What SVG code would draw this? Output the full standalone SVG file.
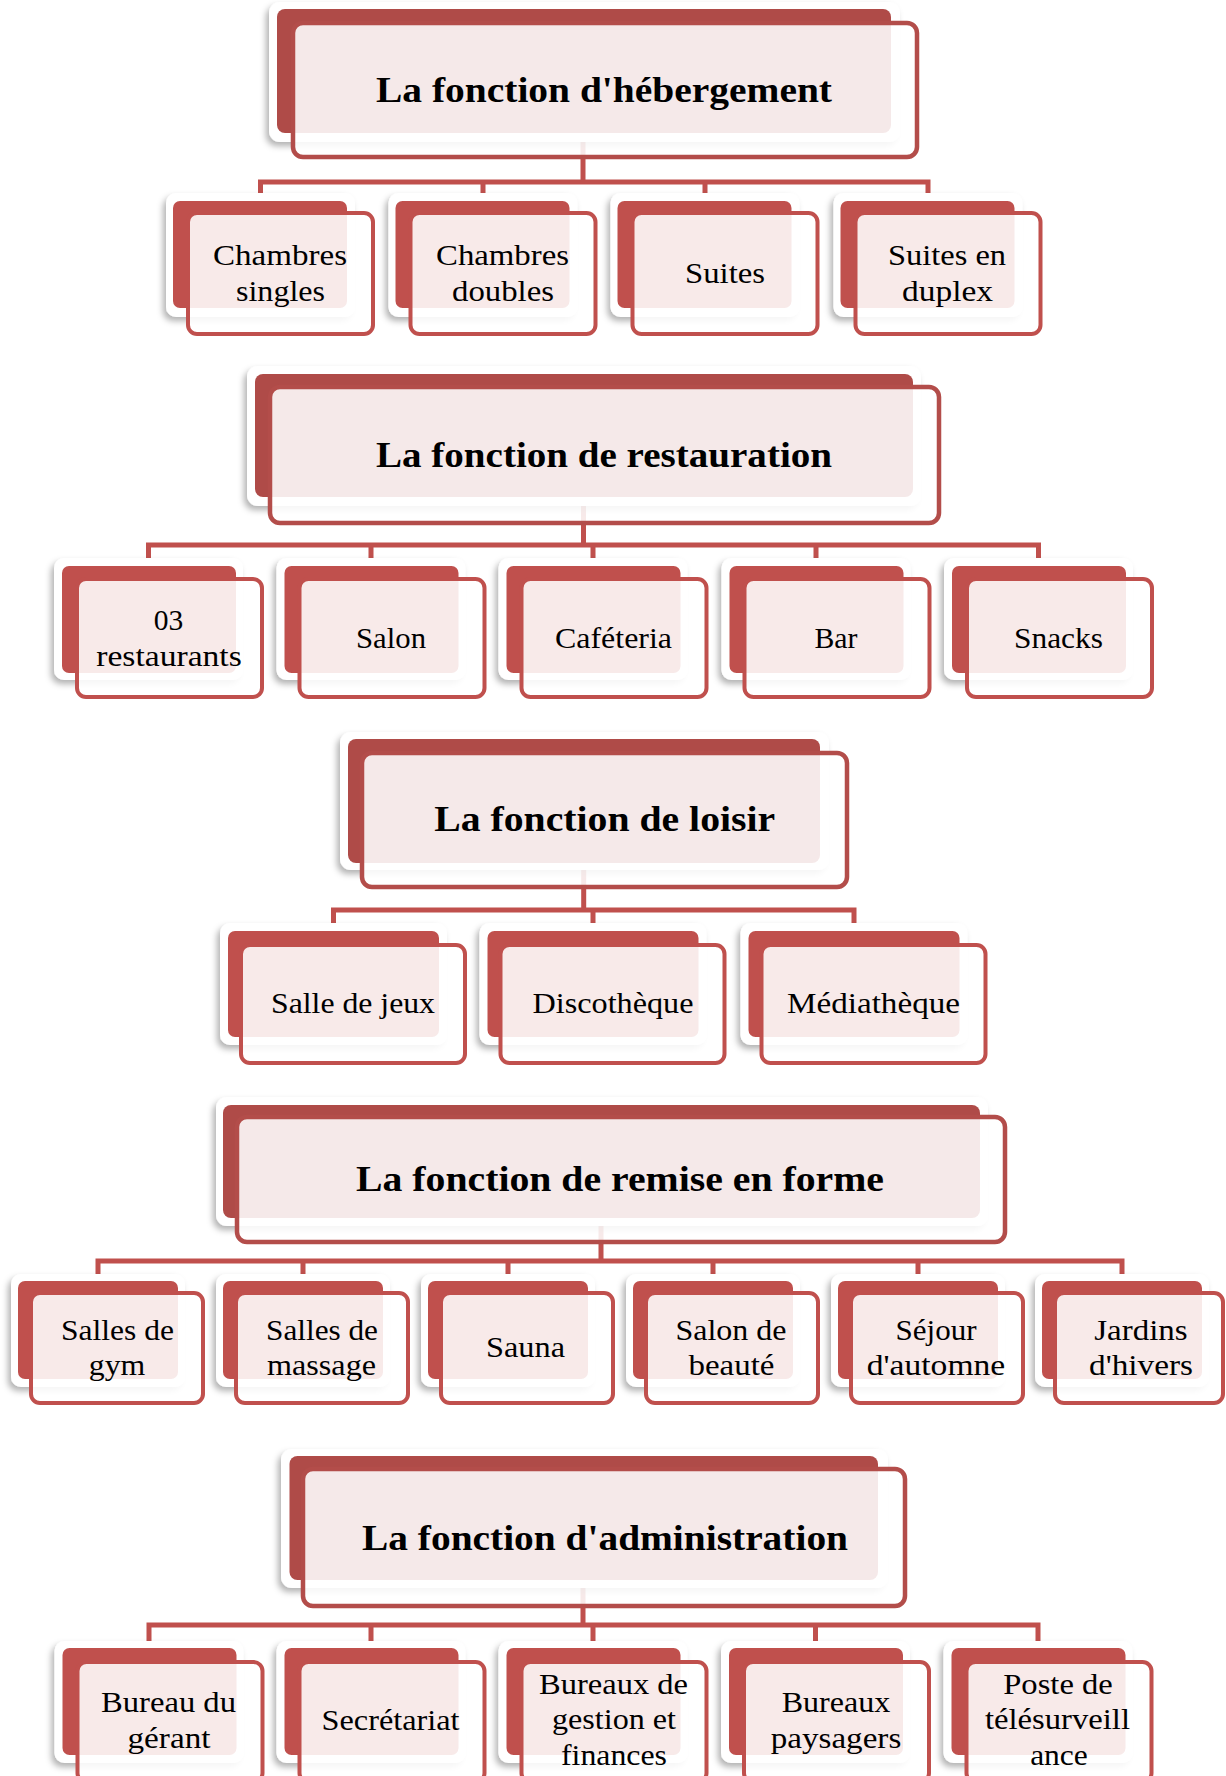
<svg xmlns="http://www.w3.org/2000/svg" width="1226" height="1776" viewBox="0 0 1226 1776">
<defs>
<filter id="sh" x="-10%" y="-15%" width="120%" height="135%">
<feDropShadow dx="-3" dy="4" stdDeviation="3" flood-color="#000" flood-opacity="0.3"/>
</filter>
</defs>
<style>
.w{fill:#fff;filter:url(#sh)}
.hr{fill:#AF4B48}
.hf{fill:#fff;fill-opacity:0.88;stroke:#B34D4A;stroke-width:4.5}
.cr{fill:#C0504D}
.cf{fill:#fff;fill-opacity:0.88;stroke:#C0504D;stroke-width:4}
.ht{font-family:"Liberation Serif",serif;font-weight:bold;font-size:36px;fill:#000;text-anchor:middle}
.ct{font-family:"Liberation Serif",serif;font-size:30px;fill:#000;text-anchor:middle}
.c4{font-family:"Liberation Serif",serif;font-size:29px;fill:#000;text-anchor:middle}
.con{fill:none;stroke:#C0504D;stroke-width:5}
</style>
<rect width="1226" height="1776" fill="#fff"/>
<g id="connectors">
<path class="con" d="M583,142V182M260.5,193V182H928V193M483,182V193M705,182V193"/>
<path class="con" d="M583.5,506V545M148.5,558V545H1038.5V558M371,545V558M593,545V558M816,545V558"/>
<path class="con" d="M583.7,870V910M333.5,923V910H854V923M593,910V923"/>
<path class="con" d="M601,1226V1261M98,1274V1261H1122V1274M303,1261V1274M508,1261V1274M713,1261V1274M918,1261V1274"/>
<path class="con" d="M583,1588V1625M149,1641V1625H1038V1641M371,1625V1641M593,1625V1641M815.5,1625V1641"/>
</g>
<!-- Section 1 -->
<g id="h1">
<rect class="w" x="269" y="2" width="631" height="140" rx="11"/>
<rect class="hr" x="277" y="9" width="614" height="124" rx="8"/>
<rect class="hf" x="293" y="23" width="624" height="134" rx="10"/>
<text class="ht" x="604" y="102" textLength="456" lengthAdjust="spacingAndGlyphs">La fonction d'hébergement</text>
</g>
<g id="n1a">
<rect class="w" x="166" y="193" width="189" height="124" rx="10"/>
<rect class="cr" x="173" y="201" width="174" height="107" rx="7"/>
<rect class="cf" x="188" y="213" width="185" height="121" rx="9"/>
<text class="ct" x="280" y="265" textLength="134" lengthAdjust="spacingAndGlyphs">Chambres</text>
<text class="ct" x="280.5" y="301" textLength="89" lengthAdjust="spacingAndGlyphs">singles</text>
</g>
<g id="n1b">
<rect class="w" x="388.5" y="193" width="189" height="124" rx="10"/>
<rect class="cr" x="395.5" y="201" width="174" height="107" rx="7"/>
<rect class="cf" x="410.5" y="213" width="185" height="121" rx="9"/>
<text class="ct" x="502.5" y="265" textLength="133" lengthAdjust="spacingAndGlyphs">Chambres</text>
<text class="ct" x="503" y="301" textLength="102" lengthAdjust="spacingAndGlyphs">doubles</text>
</g>
<g id="n1c">
<rect class="w" x="610.5" y="193" width="189" height="124" rx="10"/>
<rect class="cr" x="617.5" y="201" width="174" height="107" rx="7"/>
<rect class="cf" x="632.5" y="213" width="185" height="121" rx="9"/>
<text class="ct" x="725" y="283" textLength="80" lengthAdjust="spacingAndGlyphs">Suites</text>
</g>
<g id="n1d">
<rect class="w" x="833.5" y="193" width="189" height="124" rx="10"/>
<rect class="cr" x="840.5" y="201" width="174" height="107" rx="7"/>
<rect class="cf" x="855.5" y="213" width="185" height="121" rx="9"/>
<text class="ct" x="947" y="265" textLength="118" lengthAdjust="spacingAndGlyphs">Suites en</text>
<text class="ct" x="947.5" y="301" textLength="91" lengthAdjust="spacingAndGlyphs">duplex</text>
</g>
<!-- Section 2 -->
<g id="h2">
<rect class="w" x="247" y="366" width="674" height="140" rx="11"/>
<rect class="hr" x="255" y="374" width="658" height="123" rx="8"/>
<rect class="hf" x="270" y="387" width="669" height="136" rx="10"/>
<text class="ht" x="604" y="467" textLength="456" lengthAdjust="spacingAndGlyphs">La fonction de restauration</text>
</g>
<g id="n2a">
<rect class="w" x="54" y="558" width="189" height="122" rx="10"/>
<rect class="cr" x="62" y="566" width="174" height="107" rx="7"/>
<rect class="cf" x="77" y="579" width="185" height="118" rx="9"/>
<text class="ct" x="168.5" y="630" textLength="29.5" lengthAdjust="spacingAndGlyphs">03</text>
<text class="ct" x="169" y="666" textLength="145.6" lengthAdjust="spacingAndGlyphs">restaurants</text>
</g>
<g id="n2b">
<rect class="w" x="276.5" y="558" width="189" height="122" rx="10"/>
<rect class="cr" x="284.5" y="566" width="174" height="107" rx="7"/>
<rect class="cf" x="299.5" y="579" width="185" height="118" rx="9"/>
<text class="ct" x="391" y="648" textLength="70" lengthAdjust="spacingAndGlyphs">Salon</text>
</g>
<g id="n2c">
<rect class="w" x="498.5" y="558" width="189" height="122" rx="10"/>
<rect class="cr" x="506.5" y="566" width="174" height="107" rx="7"/>
<rect class="cf" x="521.5" y="579" width="185" height="118" rx="9"/>
<text class="ct" x="613.5" y="648" textLength="117" lengthAdjust="spacingAndGlyphs">Caféteria</text>
</g>
<g id="n2d">
<rect class="w" x="721.5" y="558" width="189" height="122" rx="10"/>
<rect class="cr" x="729.5" y="566" width="174" height="107" rx="7"/>
<rect class="cf" x="744.5" y="579" width="185" height="118" rx="9"/>
<text class="ct" x="836" y="648" textLength="43" lengthAdjust="spacingAndGlyphs">Bar</text>
</g>
<g id="n2e">
<rect class="w" x="944" y="558" width="189" height="122" rx="10"/>
<rect class="cr" x="952" y="566" width="174" height="107" rx="7"/>
<rect class="cf" x="967" y="579" width="185" height="118" rx="9"/>
<text class="ct" x="1058.5" y="648" textLength="89" lengthAdjust="spacingAndGlyphs">Snacks</text>
</g>
<!-- Section 3 -->
<g id="h3">
<rect class="w" x="340" y="732" width="489" height="138" rx="11"/>
<rect class="hr" x="348" y="739" width="472" height="124" rx="8"/>
<rect class="hf" x="362" y="753" width="485" height="134" rx="10"/>
<text class="ht" x="604.7" y="831" textLength="341" lengthAdjust="spacingAndGlyphs">La fonction de loisir</text>
</g>
<g id="n3a">
<rect class="w" x="220" y="923" width="227" height="122" rx="10"/>
<rect class="cr" x="228" y="931" width="211" height="106" rx="7"/>
<rect class="cf" x="241" y="945" width="224" height="118" rx="9"/>
<text class="ct" x="353" y="1013" textLength="164" lengthAdjust="spacingAndGlyphs">Salle de jeux</text>
</g>
<g id="n3b">
<rect class="w" x="479.5" y="923" width="227" height="122" rx="10"/>
<rect class="cr" x="487.5" y="931" width="211" height="106" rx="7"/>
<rect class="cf" x="500.5" y="945" width="224" height="118" rx="9"/>
<text class="ct" x="613" y="1013" textLength="161" lengthAdjust="spacingAndGlyphs">Discothèque</text>
</g>
<g id="n3c">
<rect class="w" x="740.5" y="923" width="227" height="122" rx="10"/>
<rect class="cr" x="748.5" y="931" width="211" height="106" rx="7"/>
<rect class="cf" x="761.5" y="945" width="224" height="118" rx="9"/>
<text class="ct" x="873.5" y="1013" textLength="173" lengthAdjust="spacingAndGlyphs">Médiathèque</text>
</g>
<!-- Section 4 -->
<g id="h4">
<rect class="w" x="216" y="1097" width="772" height="129" rx="11"/>
<rect class="hr" x="223" y="1105" width="757" height="113" rx="8"/>
<rect class="hf" x="237" y="1117" width="768" height="125" rx="10"/>
<text class="ht" x="620" y="1191" textLength="528" lengthAdjust="spacingAndGlyphs">La fonction de remise en forme</text>
</g>
<g id="n4a">
<rect class="w" x="11" y="1274" width="174" height="113" rx="10"/>
<rect class="cr" x="18" y="1281" width="160" height="98" rx="7"/>
<rect class="cf" x="31" y="1293" width="172" height="110" rx="9"/>
<text class="c4" x="117.5" y="1340" textLength="113" lengthAdjust="spacingAndGlyphs">Salles de</text>
<text class="c4" x="117" y="1375" textLength="56.5" lengthAdjust="spacingAndGlyphs">gym</text>
</g>
<g id="n4b">
<rect class="w" x="216" y="1274" width="174" height="113" rx="10"/>
<rect class="cr" x="223" y="1281" width="160" height="98" rx="7"/>
<rect class="cf" x="236" y="1293" width="172" height="110" rx="9"/>
<text class="c4" x="322" y="1340" textLength="112" lengthAdjust="spacingAndGlyphs">Salles de</text>
<text class="c4" x="321.5" y="1375" textLength="109" lengthAdjust="spacingAndGlyphs">massage</text>
</g>
<g id="n4c">
<rect class="w" x="421" y="1274" width="174" height="113" rx="10"/>
<rect class="cr" x="428" y="1281" width="160" height="98" rx="7"/>
<rect class="cf" x="441" y="1293" width="172" height="110" rx="9"/>
<text class="c4" x="525.5" y="1357" textLength="79" lengthAdjust="spacingAndGlyphs">Sauna</text>
</g>
<g id="n4d">
<rect class="w" x="626" y="1274" width="174" height="113" rx="10"/>
<rect class="cr" x="633" y="1281" width="160" height="98" rx="7"/>
<rect class="cf" x="646" y="1293" width="172" height="110" rx="9"/>
<text class="c4" x="731" y="1340" textLength="111" lengthAdjust="spacingAndGlyphs">Salon de</text>
<text class="c4" x="731.5" y="1375" textLength="86" lengthAdjust="spacingAndGlyphs">beauté</text>
</g>
<g id="n4e">
<rect class="w" x="831" y="1274" width="174" height="113" rx="10"/>
<rect class="cr" x="838" y="1281" width="160" height="98" rx="7"/>
<rect class="cf" x="851" y="1293" width="172" height="110" rx="9"/>
<text class="c4" x="936" y="1340" textLength="81" lengthAdjust="spacingAndGlyphs">Séjour</text>
<text class="c4" x="936" y="1375" textLength="138.5" lengthAdjust="spacingAndGlyphs">d'automne</text>
</g>
<g id="n4f">
<rect class="w" x="1035" y="1274" width="174" height="113" rx="10"/>
<rect class="cr" x="1042" y="1281" width="160" height="98" rx="7"/>
<rect class="cf" x="1055" y="1293" width="168" height="110" rx="9"/>
<text class="c4" x="1141" y="1340" textLength="93.4" lengthAdjust="spacingAndGlyphs">Jardins</text>
<text class="c4" x="1141" y="1375" textLength="104" lengthAdjust="spacingAndGlyphs">d'hivers</text>
</g>
<!-- Section 5 -->
<g id="h5">
<rect class="w" x="281" y="1449" width="607" height="139" rx="11"/>
<rect class="hr" x="289.5" y="1456" width="588.5" height="124" rx="8"/>
<rect class="hf" x="303" y="1469" width="602" height="137" rx="10"/>
<text class="ht" x="605" y="1550" textLength="486" lengthAdjust="spacingAndGlyphs">La fonction d'administration</text>
</g>
<g id="n5a">
<rect class="w" x="54.5" y="1641" width="189" height="122" rx="10"/>
<rect class="cr" x="62.5" y="1648" width="174" height="107" rx="7"/>
<rect class="cf" x="77.5" y="1662" width="185" height="120" rx="9"/>
<text class="ct" x="168.5" y="1712" textLength="135" lengthAdjust="spacingAndGlyphs">Bureau du</text>
<text class="ct" x="169" y="1748" textLength="83" lengthAdjust="spacingAndGlyphs">gérant</text>
</g>
<g id="n5b">
<rect class="w" x="276.5" y="1641" width="189" height="122" rx="10"/>
<rect class="cr" x="284.5" y="1648" width="174" height="107" rx="7"/>
<rect class="cf" x="299.5" y="1662" width="185" height="120" rx="9"/>
<text class="ct" x="390.6" y="1730" textLength="138" lengthAdjust="spacingAndGlyphs">Secrétariat</text>
</g>
<g id="n5c">
<rect class="w" x="498.5" y="1641" width="189" height="122" rx="10"/>
<rect class="cr" x="506.5" y="1648" width="174" height="107" rx="7"/>
<rect class="cf" x="521.5" y="1662" width="185" height="120" rx="9"/>
<text class="ct" x="613.5" y="1694" textLength="149" lengthAdjust="spacingAndGlyphs">Bureaux de</text>
<text class="ct" x="614" y="1729" textLength="124" lengthAdjust="spacingAndGlyphs">gestion et</text>
<text class="ct" x="614" y="1765" textLength="106" lengthAdjust="spacingAndGlyphs">finances</text>
</g>
<g id="n5d">
<rect class="w" x="721" y="1641" width="189" height="122" rx="10"/>
<rect class="cr" x="729" y="1648" width="174" height="107" rx="7"/>
<rect class="cf" x="744" y="1662" width="185" height="120" rx="9"/>
<text class="ct" x="836" y="1712" textLength="108.6" lengthAdjust="spacingAndGlyphs">Bureaux</text>
<text class="ct" x="836" y="1748" textLength="130.6" lengthAdjust="spacingAndGlyphs">paysagers</text>
</g>
<g id="n5e">
<rect class="w" x="943.5" y="1641" width="189" height="122" rx="10"/>
<rect class="cr" x="951.5" y="1648" width="174" height="107" rx="7"/>
<rect class="cf" x="966.5" y="1662" width="185" height="120" rx="9"/>
<text class="ct" x="1058" y="1694" textLength="109.5" lengthAdjust="spacingAndGlyphs">Poste de</text>
<text class="ct" x="1057.5" y="1729" textLength="145" lengthAdjust="spacingAndGlyphs">télésurveill</text>
<text class="ct" x="1059" y="1765" textLength="57.7" lengthAdjust="spacingAndGlyphs">ance</text>
</g>
</svg>
